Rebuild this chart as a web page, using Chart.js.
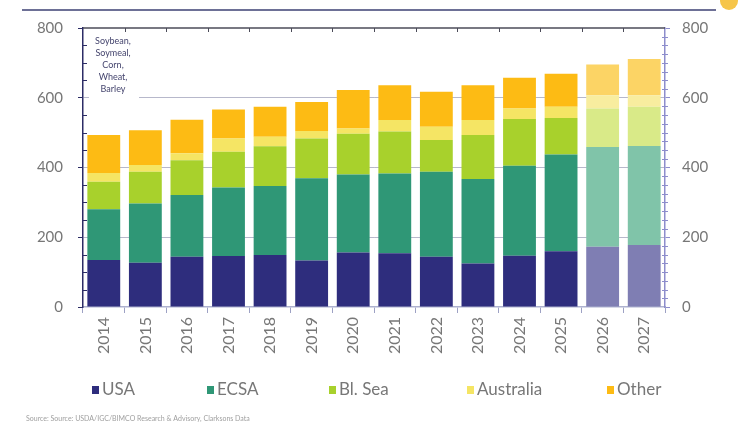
<!DOCTYPE html>
<html>
<head>
<meta charset="utf-8">
<script src="https://cdn.jsdelivr.net/npm/chart.js@4.4.1/dist/chart.umd.min.js"></script>
<style>
  html, body { margin: 0; padding: 0; background: #ffffff; }
  #wrap { width: 739px; height: 425px; position: relative; }
</style>
</head>
<body>
<div id="wrap"><canvas id="grainChart" width="739" height="425"></canvas></div>
<script>
// Categories and stacked series (mt)
const years = ['2014', '2015', '2016', '2017', '2018', '2019', '2020', '2021', '2022', '2023', '2024', '2025', '2026', '2027'];
const usa       = [135, 127, 144, 146, 149, 133, 156, 154, 144, 125, 147, 160, 173, 178];
const ecsa      = [145, 170, 177, 197, 198, 236, 224, 229, 244, 242, 258, 277, 286, 284];
const blSea     = [79, 91, 100, 102, 114, 114, 117, 120, 91, 126, 134, 105, 110, 112];
const australia = [25, 19, 20, 38, 27, 22, 15, 33, 38, 43, 30, 32, 38, 33];
const other     = [109, 100, 96, 83, 86, 83, 110, 100, 100, 100, 88, 95, 88, 104];
const yTicks = [0, 200, 400, 600, 800];
const seriesNames = ['USA', 'ECSA', 'Bl. Sea', 'Australia', 'Other'];
const commodities = ['Soybean,', 'Soymeal,', 'Corn,', 'Wheat,', 'Barley'];
const forecastFrom = 12; // 2026 onwards shown in lighter shades

const palette = {
  USA:         { solid: '#2e2d7d', light: '#7f7eb3' },
  ECSA:        { solid: '#2f9776', light: '#80c4a9' },
  'Bl. Sea':   { solid: '#a8d12c', light: '#d9ea88' },
  Australia:   { solid: '#f5e564', light: '#f8ed9f' },
  Other:       { solid: '#fdbb14', light: '#fcd465' }
};

const FONT = 'Lato, "Open Sans", sans-serif';
const TICK_GREY = '#777777';

function makeSet(name, values) {
  return {
    label: name,
    data: values,
    yAxisID: 'y',
    stack: 'origin',
    borderWidth: 0,
    backgroundColor: ctx => ctx.dataIndex >= forecastFrom ? palette[name].light : palette[name].solid,
    barPercentage: 0.79,
    categoryPercentage: 1.0
  };
}

// Frame, minor ticks, annotation, legend and footer
const decor = {
  id: 'decor',
  afterDraw(chart) {
    const { ctx, chartArea: a, scales } = chart;
    const y = scales.y;
    const x = scales.x;
    const step = (a.right - a.left) / years.length;
    ctx.save();

    // top border with category ticks
    ctx.strokeStyle = '#4b4b58';
    ctx.lineWidth = 1.5;
    ctx.beginPath();
    ctx.moveTo(a.left, a.top);
    ctx.lineTo(a.right, a.top);
    ctx.stroke();
    ctx.lineWidth = 1;
    ctx.beginPath();
    for (let i = 1; i < years.length; i++) {
      const bx = Math.round(x.getPixelForValue(i) - step / 2) + 0.5;
      ctx.moveTo(bx, a.top);
      ctx.lineTo(bx, a.top + 4);
    }
    ctx.stroke();

    // left axis minor ticks (inside)
    ctx.strokeStyle = '#2c2c66';
    ctx.beginPath();
    for (let v = 50; v < 800; v += 50) {
      if (v % 200 === 0) continue;
      const py = Math.round(y.getPixelForValue(v)) + 0.5;
      ctx.moveTo(a.left, py);
      ctx.lineTo(a.left + 4, py);
    }
    ctx.stroke();

    // right axis minor ticks (crossing)
    ctx.strokeStyle = '#8d8dcc';
    ctx.beginPath();
    for (let v = 25; v < 800; v += 25) {
      if (v % 200 === 0) continue;
      const py = Math.round(y.getPixelForValue(v)) + 0.5;
      ctx.moveTo(a.right - 3, py);
      ctx.lineTo(a.right + 3, py);
    }
    ctx.stroke();

    // commodity note, top-left of plot
    const noteX = a.left + 30;
    ctx.fillStyle = '#ffffff';
    ctx.fillRect(a.left + 6, a.top + 4, 50, 68);
    ctx.fillStyle = '#45456e';
    ctx.font = '9px ' + FONT;
    ctx.textAlign = 'center';
    ctx.textBaseline = 'middle';
    commodities.forEach((t, i) => ctx.fillText(t, noteX, a.top + 13 + i * 12));

    // rule under the (cropped) title and corner badge
    ctx.strokeStyle = '#6d7096';
    ctx.lineWidth = 2;
    ctx.beginPath();
    ctx.moveTo(22, 10);
    ctx.lineTo(716, 10);
    ctx.stroke();
    ctx.fillStyle = '#f6c54a';
    ctx.beginPath();
    ctx.arc(729, 1, 9, 0, Math.PI * 2);
    ctx.fill();

    // legend
    const legendX = [92, 207, 329, 467, 607];
    const legendY = 390;
    ctx.font = '17px ' + FONT;
    ctx.textAlign = 'left';
    ctx.textBaseline = 'middle';
    seriesNames.forEach((name, i) => {
      ctx.fillStyle = palette[name].solid;
      ctx.fillRect(legendX[i], legendY - 4, 7, 8);
      ctx.fillStyle = TICK_GREY;
      ctx.fillText(name, legendX[i] + 10, legendY);
    });

    // footer
    ctx.font = '7px ' + FONT;
    ctx.fillStyle = '#a0a0a0';
    ctx.fillText('Source: Source: USDA/IGC/BIMCO Research & Advisory, Clarksons Data', 26, 419);
    ctx.restore();
  }
};

new Chart(document.getElementById('grainChart'), {
  type: 'bar',
  data: {
    labels: years,
    datasets: [
      makeSet('USA', usa),
      makeSet('ECSA', ecsa),
      makeSet('Bl. Sea', blSea),
      makeSet('Australia', australia),
      makeSet('Other', other)
    ]
  },
  options: {
    responsive: false,
    animation: false,
    layout: { padding: { top: 28, left: 0, right: 0, bottom: 0 } },
    plugins: {
      legend: { display: false },
      tooltip: { enabled: false }
    },
    scales: {
      x: {
        stacked: true,
        afterFit: s => { s.height = 118; },
        border: { color: '#aeb2cf', width: 1.5 },
        grid: {
          offset: true,
          drawOnChartArea: false,
          tickLength: 6,
          tickColor: '#9da1c4'
        },
        ticks: {
          color: TICK_GREY,
          font: { family: FONT, size: 16 },
          minRotation: 90,
          maxRotation: 90,
          padding: 4
        }
      },
      y: {
        stacked: true,
        position: 'left',
        min: 0,
        max: 800,
        z: 1,
        afterFit: s => { s.width = 83; },
        afterBuildTicks: s => { s.ticks = yTicks.map(v => ({ value: v })); },
        border: { color: '#2c2c66', width: 1.5 },
        grid: {
          color: c => (c.tick && (c.tick.value === 0 || c.tick.value === 800)) ? 'rgba(0,0,0,0)' : 'rgba(95,98,140,0.45)',
          tickColor: '#2c2c66',
          tickLength: 5
        },
        ticks: {
          color: TICK_GREY,
          font: { family: FONT, size: 15 },
          padding: 15
        }
      },
      y2: {
        position: 'right',
        min: 0,
        max: 800,
        afterFit: s => { s.width = 74; },
        afterBuildTicks: s => { s.ticks = yTicks.map(v => ({ value: v })); },
        border: { color: '#8d8dcc', width: 1.5 },
        grid: {
          drawOnChartArea: false,
          tickColor: '#8d8dcc',
          tickLength: 5
        },
        ticks: {
          color: TICK_GREY,
          font: { family: FONT, size: 15 },
          padding: 12
        }
      }
    }
  },
  plugins: [decor]
});
</script>
</body>
</html>
